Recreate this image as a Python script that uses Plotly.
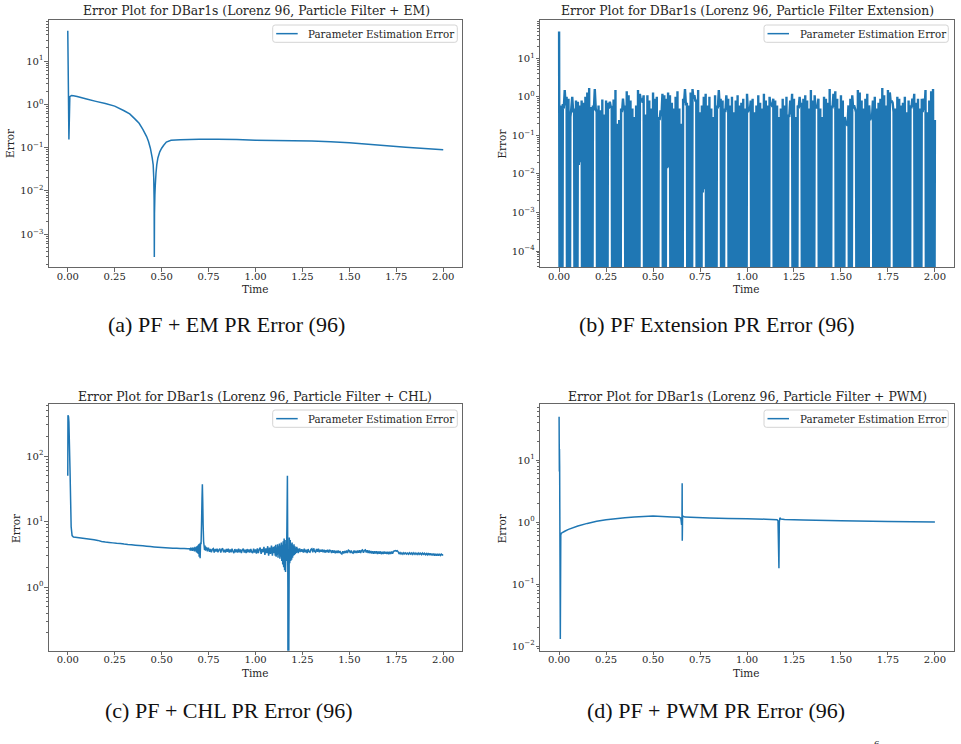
import numpy as np
import plotly.graph_objects as go

W, H = 961, 744
BLUE = "#1f77b4"
SERIF = "DejaVu Serif"
CAP_FONT = "Liberation Serif"

# ---------------- (a) PF + EM ----------------
t_a = [0, 0.002, 0.006, 0.011, 0.02, 0.03, 0.05, 0.1, 0.15, 0.2, 0.25, 0.3, 0.33,
       0.36, 0.38, 0.4, 0.42, 0.43, 0.44, 0.45, 0.455, 0.458, 0.46, 0.461, 0.462,
       0.464, 0.466, 0.47, 0.474, 0.48, 0.49, 0.5, 0.51, 0.525, 0.55, 0.6, 0.7,
       0.8, 0.9, 1.0, 1.1, 1.2, 1.3, 1.4, 1.5, 1.6, 1.7, 1.8, 1.9, 2.0]
err_a = [50, 8, 0.155, 1.5, 1.6, 1.58, 1.52, 1.33, 1.17, 1.04, 0.91, 0.71, 0.6,
         0.45, 0.365, 0.265, 0.18, 0.138, 0.097, 0.057, 0.04, 0.02, 0.006, 0.0003, 0.003,
         0.008, 0.013, 0.026, 0.04, 0.058, 0.08, 0.097, 0.112, 0.135, 0.148, 0.153, 0.156,
         0.157, 0.154, 0.149, 0.146, 0.145, 0.143, 0.137, 0.129, 0.12, 0.11, 0.102, 0.095, 0.09]

# ---------------- (b) PF Extension ----------------
# sampled every 0.005: peaks at even samples, troughs at odd samples (0 = exact zero error)
peak_b = [
    50, 0.6, 0.65, 1.5, 1.0, 0.9, 0.3, 1.0, 0.5, 0.8, 0.75, 0.6, 0.8, 0.7, 1.0, 1.3, 1.7, 0.55, 0.6, 1.6,
    0.4, 0.6, 0.45, 0.85, 0.35, 0.8, 0.7, 0.75, 0.55, 0.85, 1.5, 0.2, 0.25, 0.5, 0.9, 0.6, 1.4, 1.1, 0.8, 0.5,
    0.3, 0.6, 1.5, 1.2, 0.9, 1.1, 0.35, 1.1, 0.8, 0.5, 1.3, 0.9, 1.0, 0.3, 0.45, 1.2, 1.1, 0.9, 1.3, 1.1,
    0.7, 0.5, 1.0, 1.4, 0.5, 0.2, 0.9, 1.6, 0.7, 0.6, 1.3, 1.6, 1.1, 0.8, 1.5, 0.4, 0.6, 1.0, 1.2, 0.6,
    1.0, 0.5, 0.3, 1.1, 0.6, 1.5, 0.9, 0.8, 0.5, 1.1, 0.9, 0.6, 1.0, 0.4, 0.8, 1.1, 0.6, 0.7, 0.9, 0.5,
    1.2, 0.5, 0.8, 0.9, 0.4, 0.6, 1.1, 0.7, 0.5, 1.2, 0.8, 0.6, 1.0, 0.7, 0.9, 0.8, 0.6, 0.3, 0.5, 0.9,
    0.6, 1.0, 0.35, 0.8, 1.2, 0.9, 0.3, 0.6, 1.0, 0.7, 0.9, 1.1, 0.8, 0.5, 1.5, 0.8, 1.1, 0.6, 0.9, 0.5,
    0.3, 1.0, 0.9, 0.7, 1.6, 0.6, 1.2, 1.4, 0.9, 0.5, 1.1, 0.8, 0.3, 0.2, 0.6, 0.9, 1.1, 0.6, 0.4, 1.5,
    1.3, 0.8, 0.5, 0.9, 1.2, 0.6, 0.3, 0.8, 1.0, 0.5, 0.7, 0.9, 1.7, 1.1, 0.6, 1.5, 1.3, 0.8, 0.4, 0.5,
    1.0, 0.9, 0.6, 0.7, 1.0, 0.4, 0.8, 0.6, 0.9, 1.2, 0.7, 0.9, 0.5, 0.9, 0.9, 1.5, 0.4, 0.8, 1.4, 1.6,
    0.25]
trough_b = [
    0, 0, 0.5, 0.6, 0, 0, 0.5, 0.4, 0, 0, 0.017, 0.02, 0, 0, 0, 0, 0, 0, 0.45, 0.5,
    0, 0, 0, 0, 0, 0, 0.5, 0.55, 0, 0, 0, 0, 0, 0.4, 0.45, 0, 0, 0, 0, 0,
    0, 0, 0, 0.8, 0.7, 0, 0, 0, 0, 0, 0, 0, 0, 0.25, 0.35, 0, 0, 0.014, 0.015, 0,
    0, 0, 0, 0, 0, 0, 0.7, 0.6, 0, 0, 0, 0.9, 0.8, 0, 0, 0, 0.0033, 0.004, 0, 0,
    0, 0, 0, 0, 0.5, 0.55, 0, 0, 0.4, 0.45, 0, 0, 0, 0, 0, 0, 0, 0, 0, 0,
    0.4, 0.45, 0, 0, 0, 0, 0, 0, 0, 0, 0, 0, 0.6, 0.55, 0, 0, 0, 0, 0, 0,
    0, 0, 0.3, 0.35, 0, 0, 0, 0.5, 0.55, 0, 0, 0, 0, 0, 0, 0, 0.5, 0.5, 0, 0,
    0, 0, 0, 0, 0, 0.5, 0.55, 0, 0, 0, 0, 0, 0.2, 0.18, 0, 0, 0.5, 0.5, 0, 0,
    0, 0, 0, 0, 0, 0.25, 0.28, 0, 0, 0, 0, 0, 0, 0, 0, 0, 0.7, 0.7, 0, 0,
    0, 0, 0, 0, 0, 0, 0, 0.5, 0.55, 0, 0, 0, 0, 0.4, 0.45, 0, 0, 0, 0, 0]

# ---------------- (c) PF + CHL ----------------
t_c_head = [0, 0.001, 0.004, 0.006, 0.012, 0.018, 0.023, 0.03]
err_c_head = [50, 420, 400, 330, 60, 8.3, 6.1, 5.8]
t_c_decl = [0.04, 0.06, 0.08, 0.1, 0.12, 0.14, 0.16, 0.18, 0.2, 0.22, 0.24, 0.26, 0.28,
            0.3, 0.32, 0.34, 0.36, 0.38, 0.4, 0.42, 0.44, 0.46, 0.48, 0.5, 0.52, 0.54,
            0.56, 0.58, 0.6, 0.62, 0.64]
err_c_decl = [5.75, 5.65, 5.55, 5.45, 5.35, 5.25, 5.15, 4.95, 4.85, 4.8, 4.72, 4.65, 4.6,
              4.52, 4.46, 4.42, 4.36, 4.3, 4.25, 4.2, 4.15, 4.1, 4.06, 4.02, 3.98, 3.95,
              3.92, 3.9, 3.88, 3.86, 3.84]
t_c_spk = [0.65, 0.6525, 0.655, 0.6575, 0.66, 0.6625, 0.665, 0.6675, 0.67, 0.6725, 0.675,
           0.6775, 0.68, 0.6825, 0.685, 0.6875, 0.69, 0.6925, 0.695, 0.6975, 0.7, 0.7025,
           0.705, 0.7075, 0.71, 0.7125, 0.715, 0.717, 0.719, 0.721, 0.7235, 0.726, 0.7285,
           0.731, 0.7335, 0.736, 0.7385, 0.741, 0.7435, 0.746]
err_c_spk = [3.85, 3.6, 4.0, 3.65, 3.95, 3.55, 3.9, 4.0, 3.6, 3.95, 3.5,
             4.1, 3.6, 4.0, 3.4, 4.2, 3.3, 4.3, 3.2, 4.5, 2.9, 4.6,
             2.75, 4.8, 4.5, 9, 22, 37, 20, 9, 5, 4.3, 3.7,
             4.3, 3.6, 4.1, 3.7, 4.0, 3.5, 3.9]
err_c_mid = [  # t = 0.75 ... 1.095, step 0.005
    3.9, 3.45, 3.8, 3.4, 3.75, 3.85, 3.35, 3.8, 3.5, 3.85,
    3.4, 3.7, 3.85, 3.35, 3.75, 3.9, 3.4, 3.7, 3.35, 3.8,
    3.45, 3.85, 3.35, 3.75, 3.4, 3.85, 3.5, 3.3, 3.8, 3.4,
    3.75, 3.35, 3.85, 3.4, 3.75, 3.3, 3.7, 3.85, 3.35, 3.7,
    3.3, 3.8, 3.4, 3.75, 3.35, 3.8, 3.4, 3.3, 3.85, 3.35,
    3.75, 3.25, 3.9, 3.3, 3.75, 4.0, 3.2, 3.8, 3.4, 4.1,
    3.1, 3.9, 3.3, 4.2, 3.0, 4.0, 3.2, 4.3, 3.0, 4.1]
err_c_osc = [  # t = 1.1 ... 1.2475, step 0.0025
    3.3, 4.2, 3.0, 4.4, 2.9, 4.0, 3.1, 4.5, 2.8, 4.2,
    3.2, 4.6, 2.7, 4.3, 2.9, 4.8, 2.5, 4.4, 2.2, 5.0,
    2.0, 5.5, 1.8, 5.2, 1.7, 4.5, 2.5, 9, 50, 1.0,
    0, 0.16, 5.7, 2.3, 5.2, 2.5, 4.6, 2.6, 4.8, 2.8,
    4.3, 3.0, 4.5, 3.1, 4.2, 3.2, 4.0, 3.3, 4.1, 3.4,
    3.9, 3.3, 3.8, 3.5, 3.9, 3.4, 3.7, 3.5, 3.8, 3.45]
err_c_tail = [  # t = 1.25 ... 2.0, step 0.005
    3.75, 3.35, 3.85, 3.4, 3.7, 3.3, 3.8, 3.45, 3.4, 3.75,
    3.85, 3.4, 3.9, 3.5, 3.4, 3.8, 3.45, 3.85, 3.4, 3.7,
    3.45, 3.75, 3.4, 3.7, 3.35, 3.65, 3.4, 3.7, 3.35, 3.65,
    3.6, 3.3, 3.65, 3.35, 3.6, 3.28, 3.58, 3.32, 3.6, 3.3,
    3.55, 3.28, 3.2, 3.52, 3.25, 3.55, 3.3, 3.6, 3.32, 3.65,
    3.58, 3.3, 3.6, 3.35, 3.28, 3.6, 3.32, 3.58, 3.3, 3.62,
    3.35, 3.65, 3.32, 3.6, 3.68, 3.35, 3.62, 3.7, 3.38, 3.65,
    3.32, 3.6, 3.28, 3.55, 3.25, 3.52, 3.22, 3.5, 3.25, 3.52,
    3.2, 3.48, 3.22, 3.5, 3.18, 3.45, 3.2, 3.48, 3.22, 3.46,
    3.2, 3.45, 3.18, 3.46, 3.2, 3.48, 3.22, 3.5, 3.55, 3.6,
    3.52, 3.58, 3.45, 3.2, 3.35, 3.2, 3.32, 3.18, 3.34, 3.2,
    3.32, 3.18, 3.3, 3.16, 3.32, 3.18, 3.3, 3.15, 3.32, 3.17,
    3.3, 3.15, 3.28, 3.14, 3.3, 3.16, 3.28, 3.13, 3.3, 3.15,
    3.28, 3.12, 3.25, 3.1, 3.3, 3.07, 3.27, 3.05, 3.25, 3.04,
    3.25, 3.02, 3.22, 3.0, 3.2, 3.02, 3.22, 3.04, 3.18, 3.08,
    3.12]

# ---------------- (d) PF + PWM ----------------
t_d = [0, 0.0015, 0.002, 0.003, 0.0065, 0.009, 0.012, 0.03, 0.05, 0.1, 0.15, 0.2, 0.25,
       0.3, 0.35, 0.4, 0.45, 0.5, 0.55, 0.6, 0.64, 0.648, 0.652, 0.654, 0.655, 0.6555,
       0.657, 0.66, 0.67, 0.7, 0.8, 0.9, 1.0, 1.1, 1.16, 1.165, 1.17, 1.172, 1.175, 1.18,
       1.2, 1.3, 1.5, 1.75, 2.0]
err_d = [50, 6.5, 15, 8, 0.013, 0.62, 0.66, 0.71, 0.76, 0.86, 0.95, 1.03, 1.09,
         1.13, 1.17, 1.2, 1.23, 1.25, 1.23, 1.21, 1.19, 1.15, 0.9, 1.1, 4.2, 0.5,
         1.2, 1.24, 1.2, 1.19, 1.16, 1.14, 1.13, 1.11, 1.09, 1.05, 0.18, 1.0, 1.17, 1.12,
         1.1, 1.08, 1.05, 1.02, 1.0]

x_ticks = [0, 0.25, 0.5, 0.75, 1.0, 1.25, 1.5, 1.75, 2.0]
x_tick_labels = ["0.00", "0.25", "0.50", "0.75", "1.00", "1.25", "1.50", "1.75", "2.00"]

titles = ["Error Plot for DBar1s (Lorenz 96, Particle Filter + EM)",
          "Error Plot for DBar1s (Lorenz 96, Particle Filter Extension)",
          "Error Plot for DBar1s (Lorenz 96, Particle Filter + CHL)",
          "Error Plot for DBar1s (Lorenz 96, Particle Filter + PWM)"]
captions = ["(a) PF + EM PR Error (96)", "(b) PF Extension PR Error (96)",
            "(c) PF + CHL PR Error (96)", "(d) PF + PWM PR Error (96)"]
legend_label = "Parameter Estimation Error"

# ---- assemble series ----
t_b = np.round(np.arange(len(peak_b) + len(trough_b)) * 0.005, 4)
err_b = np.empty(len(t_b))
err_b[0::2] = peak_b
err_b[1::2] = trough_b
ZERO = 1e-12  # exact zeros are clipped below the log axis
err_b = np.where(err_b <= 0, ZERO, err_b)

t_c = (list(t_c_head) + list(t_c_decl) + list(t_c_spk)
       + list(np.round(0.75 + 0.005 * np.arange(len(err_c_mid)), 4))
       + list(np.round(1.1 + 0.0025 * np.arange(len(err_c_osc)), 4))
       + list(np.round(1.25 + 0.005 * np.arange(len(err_c_tail)), 4)))
err_c = np.array(err_c_head + err_c_decl + err_c_spk + err_c_mid + err_c_osc + err_c_tail, float)
err_c = np.where(err_c <= 0, ZERO, err_c)

series = [(t_a, err_a), (t_b, err_b), (t_c, err_c), (t_d, err_d)]
line_widths = [1.5, 2.4, 1.5, 1.5]

# ---- layout geometry (pixels) ----
panels = [
    dict(x=(49, 462), y=(20, 267), yr=(-3.755, 1.947)),
    dict(x=(540.3, 953.7), y=(20, 267), yr=(-4.415, 1.995)),
    dict(x=(49, 462), y=(404, 650.7), yr=(-0.972, 2.794)),
    dict(x=(540.3, 953.7), y=(404, 650.7), yr=(-2.075, 1.903)),
]
title_pos = [(256, 11), (747, 11), (255, 396), (747, 396)]
time_pos = [(255.7, 289), (746.7, 289), (255.7, 673), (746.7, 673)]
error_pos = [(10.7, 143.3), (502.3, 143.3), (16, 528), (502.3, 528)]
legend_box = [(272.7, 25, 457.3, 42.3), (764, 25, 948.3, 42.3),
              (272.7, 410, 457.3, 427.3), (764, 410, 948.3, 427.3)]
caption_pos = [(226, 325), (717, 325), (228, 710), (716, 710)]

fx = lambda p: p / W
fy = lambda p: 1 - p / H

fig = go.Figure()
layout = dict(width=W, height=H, margin=dict(l=0, r=0, t=0, b=0),
              paper_bgcolor="white", plot_bgcolor="white", showlegend=False,
              annotations=[], shapes=[])

AX = "#666666"
TXT = "#262626"


def rounded_rect(x0, y0, x1, y1, r):
    """SVG path (paper coords) of a rounded rectangle given in pixels."""
    rx, ry = r / W, r / H
    X0, X1 = fx(x0), fx(x1)
    Y0, Y1 = fy(y0), fy(y1)  # Y0 top, Y1 bottom
    return (f"M {X0 + rx},{Y0} L {X1 - rx},{Y0} Q {X1},{Y0} {X1},{Y0 - ry} "
            f"L {X1},{Y1 + ry} Q {X1},{Y1} {X1 - rx},{Y1} L {X0 + rx},{Y1} "
            f"Q {X0},{Y1} {X0},{Y1 + ry} L {X0},{Y0 - ry} Q {X0},{Y0} {X0 + rx},{Y0} Z")


for i, (p, (tx, ty)) in enumerate(zip(panels, series)):
    n = "" if i == 0 else str(i + 1)
    fig.add_trace(go.Scatter(
        x=tx, y=ty, mode="lines", name=legend_label,
        line=dict(color=BLUE, width=line_widths[i], simplify=False),
        xaxis=f"x{n}", yaxis=f"y{n}", hoverinfo="skip"))

    lo, hi = p["yr"]
    decs = list(range(int(np.ceil(lo)), int(np.floor(hi)) + 1))
    major_vals = [10.0 ** d for d in decs]
    major_text = [f"10<sup>{d}</sup>".replace("-", "−") for d in decs]
    minor_vals = [k * 10.0 ** d for d in range(int(np.floor(lo)), int(np.ceil(hi)) + 1)
                  for k in range(2, 10) if lo <= np.log10(k * 10.0 ** d) <= hi]

    layout[f"xaxis{n}"] = dict(
        domain=[fx(p["x"][0]), fx(p["x"][1])], anchor=f"y{n}",
        range=[-0.1, 2.1], tickmode="array", tickvals=x_ticks, ticktext=x_tick_labels,
        showline=True, mirror=True, linecolor=AX, linewidth=1.2,
        ticks="outside", ticklen=3.5, tickwidth=1, tickcolor=AX,
        ticklabelstandoff=-4,
        showgrid=False, zeroline=False,
        tickfont=dict(family=SERIF, size=10, color=TXT))
    layout[f"yaxis{n}"] = dict(
        domain=[fy(p["y"][1]), fy(p["y"][0])], anchor=f"x{n}", type="log",
        range=[lo, hi], tickmode="array", tickvals=major_vals, ticktext=major_text,
        showline=True, mirror=True, linecolor=AX, linewidth=1.2,
        ticks="outside", ticklen=3.5, tickwidth=1, tickcolor=AX,
        ticklabelstandoff=-1,
        minor=dict(tickmode="array", tickvals=minor_vals, ticks="outside",
                   ticklen=2, tickwidth=0.8, tickcolor=AX, showgrid=False),
        showgrid=False, zeroline=False,
        tickfont=dict(family=SERIF, size=10, color=TXT))

    # legend (matplotlib style: rounded light frame, short line sample, label)
    bx0, by0, bx1, by1 = legend_box[i]
    ym = (by0 + by1) / 2
    layout["shapes"].append(dict(type="path", path=rounded_rect(bx0, by0, bx1, by1, 2.5),
                                 xref="paper", yref="paper", layer="above",
                                 fillcolor="rgba(255,255,255,0.85)",
                                 line=dict(color="#d4d4d4", width=1)))
    layout["shapes"].append(dict(type="line", xref="paper", yref="paper", layer="above",
                                 x0=fx(bx0 + 3.5), x1=fx(bx0 + 25), y0=fy(ym), y1=fy(ym),
                                 line=dict(color=BLUE, width=1.5)))
    ann = layout["annotations"]
    ann.append(dict(text=legend_label, x=fx(bx0 + 33.5), y=fy(ym), xref="paper", yref="paper",
                    showarrow=False, xanchor="left", yanchor="middle",
                    font=dict(family=SERIF, size=10.3, color=TXT)))

    ann.append(dict(text=titles[i], x=fx(title_pos[i][0]), y=fy(title_pos[i][1]),
                    xref="paper", yref="paper", showarrow=False,
                    xanchor="center", yanchor="middle",
                    font=dict(family=SERIF, size=12.4, color=TXT)))
    ann.append(dict(text="Time", x=fx(time_pos[i][0]), y=fy(time_pos[i][1]),
                    xref="paper", yref="paper", showarrow=False,
                    xanchor="center", yanchor="middle",
                    font=dict(family=SERIF, size=10.5, color=TXT)))
    ann.append(dict(text="Error", x=fx(error_pos[i][0]), y=fy(error_pos[i][1]),
                    xref="paper", yref="paper", showarrow=False, textangle=-90,
                    xanchor="center", yanchor="middle",
                    font=dict(family=SERIF, size=10.5, color=TXT)))
    ann.append(dict(text=captions[i], x=fx(caption_pos[i][0]), y=fy(caption_pos[i][1]),
                    xref="paper", yref="paper", showarrow=False,
                    xanchor="center", yanchor="middle",
                    font=dict(family=CAP_FONT, size=22, color="#111111")))

# page footnote marker cut at the bottom edge
layout["annotations"].append(dict(text="6", x=fx(877), y=fy(736), xref="paper", yref="paper",
                                  showarrow=False, xanchor="center", yanchor="top",
                                  font=dict(family=CAP_FONT, size=11, color="#111111")))

fig.update_layout(**layout)
fig.write_html("out.html")
